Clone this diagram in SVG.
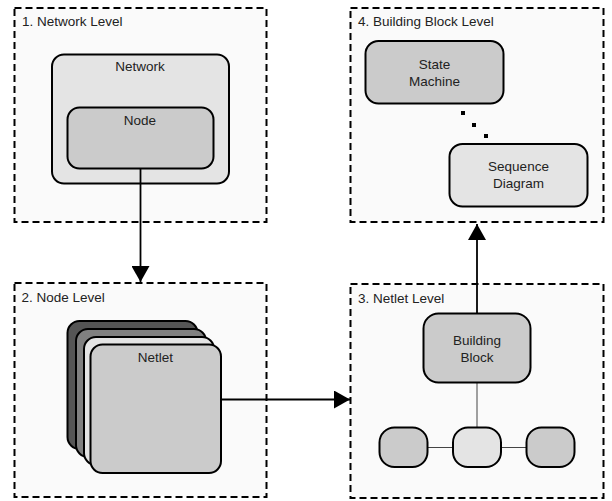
<svg xmlns="http://www.w3.org/2000/svg" width="612" height="501" viewBox="0 0 612 501">
<style>
text{font-family:"Liberation Sans",Arial,sans-serif;font-size:13.5px;fill:#222}
.m{text-anchor:middle}
.p{fill:#fafafa;stroke:#000;stroke-width:2;stroke-dasharray:7 4}
.n{stroke:#000;stroke-width:2}
.l{fill:#e4e4e4}.g{fill:#cbcbcb}.d{fill:#555}.e{fill:#808080}
.c{fill:none;stroke:#000;stroke-width:1.8}
.t{fill:none;stroke:#444;stroke-width:1}
</style>
<defs><marker id="a" markerUnits="userSpaceOnUse" markerWidth="18" markerHeight="18" refX="16" refY="9" orient="auto"><path d="M0 0L16 9L0 18Z" fill="#000"/></marker></defs>
<rect width="612" height="501" fill="#fff"/>
<g id="panel1"><rect class="p" x="14.5" y="8" width="252" height="214"/><text x="22" y="26">1. Network Level</text></g>
<g id="panel2"><rect class="p" x="14.5" y="283" width="252" height="214"/><text x="21.5" y="302">2. Node Level</text></g>
<g id="panel3"><rect class="p" x="350.5" y="284" width="253" height="214"/><text x="358" y="303">3. Netlet Level</text></g>
<g id="panel4"><rect class="p" x="350.5" y="8" width="253" height="214"/><text x="358" y="26">4. Building Block Level</text></g>
<g id="network"><rect class="n l" x="52" y="54.5" width="177" height="129" rx="12"/><text class="m" x="140" y="71">Network</text></g>
<g id="node"><rect class="n g" x="67.5" y="107.5" width="146" height="61" rx="12"/><text class="m" x="140" y="125">Node</text></g>
<g id="state-machine"><rect class="n g" x="365.5" y="41" width="138" height="62.5" rx="13"/><text class="m" x="434.500" y="69">State</text><text class="m" x="434.500" y="86">Machine</text></g>
<g id="sequence-diagram"><rect class="n l" x="449.500" y="144" width="138" height="62.500" rx="13"/><text class="m" x="518.500" y="171">Sequence</text><text class="m" x="518.500" y="188">Diagram</text></g>
<g id="dots" fill="#000"><rect x="461" y="111" width="4" height="4"/><rect x="472" y="123" width="4" height="4"/><rect x="484" y="134" width="4" height="4"/></g>
<g id="netlet-stack"><rect class="n d" x="67.500" y="321" width="130" height="128" rx="12"/><rect class="n e" x="76" y="329" width="130" height="128" rx="12"/><rect class="n l" x="84" y="337" width="130" height="128" rx="12"/></g>
<g id="netlet"><rect class="n g" x="90.500" y="344.500" width="130.500" height="128.500" rx="12"/><text class="m" x="155.500" y="362">Netlet</text></g>
<g id="connectors"><path class="c" d="M140.500 168.500V282" marker-end="url(#a)"/><path class="c" d="M221 399.500H350" marker-end="url(#a)"/><path class="c" d="M477 313V224" marker-end="url(#a)"/><path class="t" d="M477 383V427M428 447.500H453M501 447.500H527"/></g>
<g id="building-block"><rect class="n g" x="423.500" y="313.500" width="107" height="69" rx="15"/><text class="m" x="477" y="345">Building</text><text class="m" x="477" y="362">Block</text></g>
<g id="small-left"><rect class="n g" x="379.500" y="427.500" width="48" height="39.500" rx="15"/></g>
<g id="small-middle"><rect class="n l" x="453" y="427.500" width="48" height="39.500" rx="15"/></g>
<g id="small-right"><rect class="n g" x="526.500" y="427.500" width="48" height="39.500" rx="15"/></g>
</svg>
